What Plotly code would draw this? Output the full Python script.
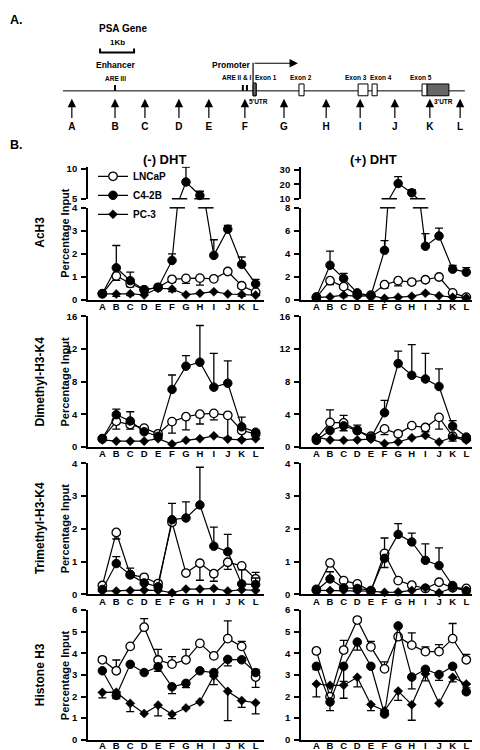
import plotly.graph_objects as go

# ---------------- data ----------------
regions = ["A", "B", "C", "D", "E", "F", "G", "H", "I", "J", "K", "L"]
series_names = ["LNCaP", "C4-2B", "PC-3"]

# AcH3, (-) DHT   (err: + = upper bar, - = lower bar)
ach3_minus_lncap = [0.26, 1.04, 0.71, 0.43, 0.54, 0.89, 0.93, 0.94, 0.91, 1.23, 0.61, 0.33]
ach3_minus_lncap_err = [0, -0.2, -0.15, 0, 0, -0.12, -0.22, -0.3, 0, 0, -0.1, -0.1]
ach3_minus_c42b = [0.27, 1.39, 0.83, 0.44, 0.53, 1.71, 7.8, 5.55, 1.93, 3.07, 1.54, 0.69]
ach3_minus_c42b_err = [0, 0.97, 0.37, 0, 0, 0.29, 2.5, 0.7, 0.68, 0.16, 0.32, 0.2]
ach3_minus_pc3 = [0.26, 0.25, 0.26, 0.21, 0.5, 0.47, 0.22, 0.28, 0.35, 0.25, 0.23, 0.2]
ach3_minus_pc3_err = [0, -0.1, -0.08, 0, 0, -0.12, 0, 0, 0, 0, -0.08, 0]

# AcH3, (+) DHT
ach3_plus_lncap = [0.2, 1.66, 1.14, 0.43, 0.4, 1.31, 1.66, 1.54, 1.74, 1.98, 0.6, 0.23]
ach3_plus_lncap_err = [0, -0.35, 0, 0, 0, -0.3, -0.45, -0.2, 0, 0, 0, 0]
ach3_plus_c42b = [0.25, 3.0, 1.86, 0.6, 0.35, 4.3, 20.5, 14.1, 4.66, 5.55, 2.66, 2.4]
ach3_plus_c42b_err = [0, 1.23, 0.43, 0, 0, 0.84, 4.8, 2.1, 1.1, 0.68, 0.34, 0.4]
ach3_plus_pc3 = [0.2, 0.25, 0.4, 0.3, 0.35, 0.12, 0.22, 0.3, 0.57, 0.35, 0.22, 0.18]
ach3_plus_pc3_err = [0, 0, -0.15, 0, 0, 0, 0, 0, 0, 0, 0, 0]

# Dimethyl-H3-K4, (-) DHT
dime_minus_lncap = [1.0, 3.13, 2.73, 2.29, 1.6, 3.09, 3.69, 4.0, 4.1, 3.86, 2.0, 1.6]
dime_minus_lncap_err = [0, -0.95, -0.55, 0, 0, -1.4, -1.6, -1.2, -0.8, -2.9, -1.0, 0]
dime_minus_c42b = [1.0, 3.94, 3.17, 1.85, 1.29, 7.03, 9.88, 10.36, 7.31, 7.79, 2.45, 1.8]
dime_minus_c42b_err = [0, 0.68, 1.13, 0, 0, 1.77, 1.28, 4.5, 4.14, 2.73, 1.2, 0]
dime_minus_pc3 = [0.85, 0.7, 0.7, 0.7, 1.0, 0.35, 0.8, 1.0, 1.35, 0.95, 0.85, 1.0]
dime_minus_pc3_err = [0, 0, 0, 0, 0, 0, 0, 0, 0, 0.2, 0, 0.3]

# Dimethyl-H3-K4, (+) DHT
dime_plus_lncap = [1.0, 3.0, 2.93, 2.0, 1.3, 2.2, 1.6, 2.6, 2.37, 3.61, 1.3, 1.0]
dime_plus_lncap_err = [0, 1.54, 0.93, 0, 0, -0.7, 0, 0, 0, -1.44, -0.6, 0]
dime_plus_c42b = [0.8, 2.0, 2.57, 2.0, 1.1, 4.18, 10.2, 8.76, 8.31, 7.39, 2.53, 1.2]
dime_plus_c42b_err = [0, 0, -0.6, 0.65, 0, 1.52, 1.53, 3.77, 3.14, 2.17, 0.68, 0]
dime_plus_pc3 = [1.2, 0.85, 0.8, 0.85, 0.95, 0.4, 0.6, 1.1, 1.4, 0.6, 1.2, 0.8]
dime_plus_pc3_err = [0, 0, 0, 0, 0, 0, 0, 0, 0.45, 0, 0, 0]

# Trimethyl-H3-K4, (-) DHT
trime_minus_lncap = [0.27, 1.89, 0.6, 0.52, 0.33, 2.2, 0.65, 0.95, 0.63, 0.98, 0.87, 0.47]
trime_minus_lncap_err = [0, -0.2, 0, 0, 0, 0, 0, -0.52, -0.23, -0.22, 0, 0.2]
trime_minus_c42b = [0.15, 0.94, 0.6, 0.35, 0.23, 2.28, 2.33, 2.73, 1.47, 1.3, 0.32, 0.3]
trime_minus_c42b_err = [0, 0.21, 0.2, 0, 0, 0.5, 0.49, 1.15, 0.58, 0.53, 0.43, 0.2]
trime_minus_pc3 = [0.1, 0.1, 0.12, 0.13, 0.12, 0.05, 0.16, 0.16, 0.18, 0.1, 0.14, 0.12]
trime_minus_pc3_err = [0, 0, 0, 0, 0, 0, 0, 0, 0, 0, 0, 0]

# Trimethyl-H3-K4, (+) DHT
trime_plus_lncap = [0.15, 0.96, 0.42, 0.32, 0.1, 1.25, 0.42, 0.28, 0.18, 0.37, 0.2, 0.18]
trime_plus_lncap_err = [0, 0, 0, 0, 0, 0.47, 0, 0, 0, 0, 0, 0]
trime_plus_c42b = [0.12, 0.47, 0.2, 0.18, 0.12, 1.1, 1.83, 1.6, 1.04, 0.88, 0.27, 0.1]
trime_plus_c42b_err = [0, 0.22, 0, 0, 0, -0.28, 0.33, 0.27, 0.5, 0.54, 0, 0]
trime_plus_pc3 = [0.12, 0.12, 0.12, 0.1, 0.1, 0.06, 0.07, 0.12, 0.2, 0.05, 0.2, 0.12]
trime_plus_pc3_err = [0, 0, 0, 0, 0, 0, 0, 0, 0, 0, 0, 0]

# Histone H3, (-) DHT
h3_minus_lncap = [3.7, 3.19, 4.32, 5.21, 3.69, 3.5, 3.7, 4.46, 3.88, 4.68, 4.32, 2.9]
h3_minus_lncap_err = [0.12, 0.5, 0, 0.4, 0.49, 0.35, 0.48, 0, 0.12, 0.82, 0.23, -0.48]
h3_minus_c42b = [3.19, 2.05, 3.49, 3.11, 3.38, 2.45, 2.61, 3.19, 3.11, 3.72, 3.7, 3.11]
h3_minus_c42b_err = [0, -0.15, 0, 0, -0.22, -0.32, -0.2, 0, 0, -0.3, 0.1, 0.15]
h3_minus_pc3 = [2.19, 2.2, 1.68, 1.21, 1.6, 1.18, 1.47, 1.75, 2.95, 2.24, 1.81, 1.71]
h3_minus_pc3_err = [-0.25, 0, -0.38, 0, -0.5, -0.2, 0, 0, -0.4, -1.36, -0.31, -0.51]

# Histone H3, (+) DHT
h3_plus_lncap = [4.11, 1.99, 4.15, 5.54, 4.3, 3.28, 4.77, 4.38, 4.08, 4.08, 4.68, 3.7]
h3_plus_lncap_err = [0.12, 0, 0.45, 0.1, 0.25, 0.32, 0, 0.57, 0.22, 0.32, 0.7, 0.25]
h3_plus_c42b = [3.4, 1.75, 3.4, 4.52, 3.4, 1.19, 5.27, 2.9, 3.26, 3.02, 3.4, 2.22]
h3_plus_c42b_err = [-0.15, -0.4, -0.7, -0.37, 0, 0, 0, -0.55, 0, -0.27, 0, -0.1]
h3_plus_pc3 = [2.58, 2.52, 2.52, 2.89, 1.63, 1.34, 2.25, 1.62, 3.05, 1.69, 2.89, 2.58]
h3_plus_pc3_err = [-0.6, 0, -0.6, -0.44, -0.28, -0.1, -0.43, -0.72, -0.33, 0, -0.21, -0.18]

# Y tick values
ach3_minus_ticks_low = [0, 1, 2, 3, 4]
ach3_minus_ticks_high = [5, 10]
ach3_plus_ticks_low = [0, 2, 4, 6, 8]
ach3_plus_ticks_high = [10, 20, 30]
dime_ticks = [0, 4, 8, 12, 16]
trime_ticks = [0, 1, 2, 3, 4]
h3_ticks = [0, 1, 2, 3, 4, 5, 6]

# PSA gene map (kb from left end of drawn line)
gene_length_kb = 11.82
region_pos_kb = [0.26, 1.53, 2.41, 3.41, 4.29, 5.35, 6.5, 7.74, 8.74, 9.76, 10.79, 11.68]
are_pos_kb = [1.53, 5.29, 5.41]
exon_names = ["Exon 1", "Exon 2", "Exon 3", "Exon 4", "Exon 5"]
exon_start_kb = [5.59, 6.94, 8.68, 9.09, 10.56]
exon_end_kb = [5.68, 7.09, 8.97, 9.24, 10.71]
exon_label_kb = [5.97, 7.0, 8.62, 9.35, 10.53]
utr5_kb = [5.59, 5.68]
utr3_kb = [10.71, 11.35]
promoter_arrow_end_kb = 6.91
scale_bar_kb = [1.09, 2.09]

# ---------------- layout helpers ----------------
W, H = 480, 750
FONT = "Liberation Sans, Arial, Helvetica, sans-serif"


def xd(a, b):
    return [a / W, b / W]


def yd(top, bottom):
    return [1 - bottom / H, 1 - top / H]


fig = go.Figure()
xs = list(range(len(regions)))

styles = {
    "LNCaP": dict(symbol="circle", size=8.5, color="white", line=dict(color="black", width=1.3)),
    "C4-2B": dict(symbol="circle", size=8.5, color="black", line=dict(color="black", width=1)),
    "PC-3": dict(symbol="diamond", size=7, color="black", line=dict(color="black", width=0.5)),
}


def add_series(name, vals, errs, ax, lo=None, hi=None):
    xa, ya = ax
    # connecting line, clipped to the axis
    fig.add_trace(go.Scatter(x=xs, y=vals, mode="lines", xaxis=xa, yaxis=ya,
                             line=dict(color="black", width=1.2), showlegend=False,
                             hoverinfo="skip"))
    mvals = [v if (lo is None or v >= lo) and (hi is None or v <= hi) else None for v in vals]
    up = [max(e, 0) for e in errs]
    dn = [max(-e, 0) for e in errs]
    fig.add_trace(go.Scatter(x=xs, y=mvals, mode="markers", xaxis=xa, yaxis=ya,
                             marker=styles[name], cliponaxis=False, showlegend=False,
                             error_y=dict(type="data", array=up, arrayminus=dn, symmetric=False,
                                          color="black", thickness=1.3, width=4)))


def add_break_caps(vals, ax, level):
    xa, ya = ax
    cx, cy = [], []
    for i in range(len(vals) - 1):
        a, b = vals[i], vals[i + 1]
        if (a - level) * (b - level) < 0:
            cx.append(i + (level - a) / (b - a))
            cy.append(level)
    fig.add_trace(go.Scatter(x=cx, y=cy, mode="markers", xaxis=xa, yaxis=ya, cliponaxis=False,
                             marker=dict(symbol="line-ew", size=11, line=dict(color="black", width=1.5)),
                             showlegend=False, hoverinfo="skip"))


panels = [
    (("x", "y"), ("x2", "y2"), ach3_minus_lncap, ach3_minus_lncap_err, ach3_minus_c42b, ach3_minus_c42b_err,
     ach3_minus_pc3, ach3_minus_pc3_err, 4, 5),
    (("x3", "y3"), ("x4", "y4"), ach3_plus_lncap, ach3_plus_lncap_err, ach3_plus_c42b, ach3_plus_c42b_err,
     ach3_plus_pc3, ach3_plus_pc3_err, 8, 10),
    (("x5", "y5"), None, dime_minus_lncap, dime_minus_lncap_err, dime_minus_c42b, dime_minus_c42b_err,
     dime_minus_pc3, dime_minus_pc3_err, None, None),
    (("x6", "y6"), None, dime_plus_lncap, dime_plus_lncap_err, dime_plus_c42b, dime_plus_c42b_err,
     dime_plus_pc3, dime_plus_pc3_err, None, None),
    (("x7", "y7"), None, trime_minus_lncap, trime_minus_lncap_err, trime_minus_c42b, trime_minus_c42b_err,
     trime_minus_pc3, trime_minus_pc3_err, None, None),
    (("x8", "y8"), None, trime_plus_lncap, trime_plus_lncap_err, trime_plus_c42b, trime_plus_c42b_err,
     trime_plus_pc3, trime_plus_pc3_err, None, None),
    (("x9", "y9"), None, h3_minus_lncap, h3_minus_lncap_err, h3_minus_c42b, h3_minus_c42b_err,
     h3_minus_pc3, h3_minus_pc3_err, None, None),
    (("x10", "y10"), None, h3_plus_lncap, h3_plus_lncap_err, h3_plus_c42b, h3_plus_c42b_err,
     h3_plus_pc3, h3_plus_pc3_err, None, None),
]

for low_ax, high_ax, l, le, c, ce, p, pe, brk_lo, brk_hi in panels:
    for name, v, e in (("LNCaP", l, le), ("C4-2B", c, ce), ("PC-3", p, pe)):
        if high_ax is None:
            add_series(name, v, e, low_ax)
        else:
            add_series(name, v, e, low_ax, hi=brk_lo)
            add_series(name, v, e, high_ax, lo=brk_hi)
    if high_ax is not None:
        add_break_caps(c, low_ax, brk_lo)
        add_break_caps(c, high_ax, brk_hi)

# legend entries
for name in series_names:
    fig.add_trace(go.Scatter(x=[None], y=[None], mode="lines+markers", name=name, xaxis="x", yaxis="y",
                             line=dict(color="black", width=1.2), marker=styles[name]))

# ---------------- axes ----------------
left_x = xd(80, 256)
right_x = xd(293, 476)
left_xrange = [-1.03, 11.6]
right_xrange = [-1.13, 12.3]

tickfont = dict(family=FONT, size=9.5, color="black", weight="bold")
xtickfont = dict(family=FONT, size=9.5, color="black", weight="bold")


def xaxis_cfg(dom, rng, visible=True, standoff=-3):
    return dict(domain=dom, range=rng, showgrid=False, zeroline=False, showline=visible,
                linecolor="black", linewidth=1.8, ticks="", ticklen=0, tickvals=xs, ticktext=regions,
                showticklabels=visible, tickfont=xtickfont, ticklabelstandoff=standoff, fixedrange=True)


def yaxis_cfg(dom, rng, ticks, anchor):
    return dict(domain=dom, range=rng, showgrid=False, zeroline=False, showline=True,
                linecolor="black", linewidth=1.8, ticks="outside", ticklen=5, tickwidth=1.8,
                tickcolor="black", tickvals=ticks, tickfont=tickfont, anchor=anchor,
                ticklabelstandoff=2, fixedrange=True)


row1_hi = yd(155, 187.5)
row1_lo = yd(196.7, 290)
row2 = yd(306.7, 439.3)
row3 = yd(456, 589)
row4 = yd(605, 736.5)

fig.update_layout(
    xaxis=xaxis_cfg(left_x, left_xrange) | dict(anchor="y"),
    yaxis=yaxis_cfg(row1_lo, [0, 4], ach3_minus_ticks_low, "x"),
    xaxis2=xaxis_cfg(left_x, left_xrange, False) | dict(anchor="y2"),
    yaxis2=yaxis_cfg(row1_hi, [5, 10.35], ach3_minus_ticks_high, "x2"),
    xaxis3=xaxis_cfg(right_x, right_xrange) | dict(anchor="y3"),
    yaxis3=yaxis_cfg(row1_lo, [0, 8], ach3_plus_ticks_low, "x3"),
    xaxis4=xaxis_cfg(right_x, right_xrange, False) | dict(anchor="y4"),
    yaxis4=yaxis_cfg(row1_hi, [10, 32.1], ach3_plus_ticks_high, "x4"),
    xaxis5=xaxis_cfg(left_x, left_xrange) | dict(anchor="y5"),
    yaxis5=yaxis_cfg(row2, [0, 16], dime_ticks, "x5"),
    xaxis6=xaxis_cfg(right_x, right_xrange) | dict(anchor="y6"),
    yaxis6=yaxis_cfg(row2, [0, 16], dime_ticks, "x6"),
    xaxis7=xaxis_cfg(left_x, left_xrange) | dict(anchor="y7"),
    yaxis7=yaxis_cfg(row3, [0, 4], trime_ticks, "x7"),
    xaxis8=xaxis_cfg(right_x, right_xrange) | dict(anchor="y8"),
    yaxis8=yaxis_cfg(row3, [0, 4], trime_ticks, "x8"),
    xaxis9=xaxis_cfg(left_x, left_xrange, standoff=-4) | dict(anchor="y9"),
    yaxis9=yaxis_cfg(row4, [0, 6], h3_ticks, "x9"),
    xaxis10=xaxis_cfg(right_x, right_xrange, standoff=-4) | dict(anchor="y10"),
    yaxis10=yaxis_cfg(row4, [0, 6], h3_ticks, "x10"),
    # gene map axes
    xaxis11=dict(domain=[0, 1], range=[-55 / 34, 425 / 34], visible=False, anchor="y11", fixedrange=True),
    yaxis11=dict(domain=yd(0, 125), range=[125, 0], visible=False, anchor="x11", fixedrange=True),
)

# ---------------- gene map ----------------
fig.add_trace(go.Scatter(x=region_pos_kb, y=[115] * len(region_pos_kb), mode="text", text=regions,
                         textfont=dict(family=FONT, size=10, color="black", weight="bold"),
                         xaxis="x11", yaxis="y11", showlegend=False, hoverinfo="skip", cliponaxis=False))

shapes = []
annotations = []
G = dict(xref="x11", yref="y11")
# gene line
shapes.append(dict(type="line", x0=0, x1=gene_length_kb, y0=78, y1=78, line=dict(color="black", width=1), **G))
# AREs
for p in are_pos_kb:
    shapes.append(dict(type="line", x0=p, x1=p, y0=72, y1=78, line=dict(color="black", width=2), **G))
# exons
for s, e in zip(exon_start_kb, exon_end_kb):
    shapes.append(dict(type="rect", x0=s, x1=e, y0=71, y1=83, line=dict(color="black", width=1),
                       fillcolor="white", **G))
shapes.append(dict(type="rect", x0=utr5_kb[0], x1=utr5_kb[1], y0=70, y1=83, line=dict(color="black", width=1),
                   fillcolor="#666666", **G))
shapes.append(dict(type="rect", x0=utr3_kb[0], x1=utr3_kb[1], y0=71, y1=83, line=dict(color="black", width=1),
                   fillcolor="#666666", **G))
# promoter arrow vertical part
shapes.append(dict(type="line", x0=exon_start_kb[0], x1=exon_start_kb[0], y0=70, y1=49.5,
                   line=dict(color="black", width=1.2), **G))
annotations.append(dict(x=promoter_arrow_end_kb, y=50, ax=exon_start_kb[0], ay=50, axref="x11", ayref="y11",
                        text="", showarrow=True, arrowhead=2, arrowsize=1.4, arrowwidth=1.2,
                        arrowcolor="black", standoff=0, **G))
# scale bar
shapes.append(dict(type="path", path=f"M {scale_bar_kb[0]},35 L {scale_bar_kb[0]},39 L {scale_bar_kb[1]},39 L {scale_bar_kb[1]},35",
                   line=dict(color="black", width=2), **G))
# region arrows
for p in region_pos_kb:
    annotations.append(dict(x=p, y=86, ax=p, ay=107, axref="x11", ayref="y11", text="", showarrow=True,
                            arrowhead=2, arrowsize=1.4, arrowwidth=1.2, arrowcolor="black", standoff=0, **G))


def txt(x, y, s, size, **kw):
    d = dict(x=x, y=y, text=s, showarrow=False, font=dict(family=FONT, size=size, color="black", weight="bold"),
             xanchor="center", yanchor="middle", **G)
    d.update(kw)
    annotations.append(d)


txt(1.76, 15, "PSA Gene", 10)
txt(sum(scale_bar_kb) / 2, 29, "1Kb", 8)
txt(are_pos_kb[0], 52, "Enhancer", 8.5)
txt(are_pos_kb[0], 65, "ARE III", 6.5)
txt(4.94, 52, "Promoter", 8.5)
txt(5.09, 64, "ARE II & I", 6.5)
for name, p in zip(exon_names, exon_label_kb):
    txt(p, 64, name, 6.5)
txt(5.76, 89, "5'UTR", 6.5)
txt(11.18, 89, "3'UTR", 6.5)

# panel letters and titles
P = dict(xref="paper", yref="paper", showarrow=False)
annotations.append(dict(x=0, y=1 - 6 / H, text="A.", xanchor="left", yanchor="middle",
                        font=dict(family=FONT, size=12.5, color="black", weight="bold"), **P))
annotations.append(dict(x=0, y=1 - 133 / H, text="B.", xanchor="left", yanchor="middle",
                        font=dict(family=FONT, size=12.5, color="black", weight="bold"), **P))
annotations.append(dict(x=156 / W, y=1 - 148 / H, text="(-) DHT", xanchor="center", yanchor="middle",
                        font=dict(family=FONT, size=13, color="black", weight="bold"), **P))
annotations.append(dict(x=365 / W, y=1 - 148 / H, text="(+) DHT", xanchor="center", yanchor="middle",
                        font=dict(family=FONT, size=13, color="black", weight="bold"), **P))

row_labels = ["AcH3", "Dimethyl-H3-K4", "Trimethyl-H3-K4", "Histone H3"]
row_centers = [222, 373, 522, 671]
for lab, cy in zip(row_labels, row_centers):
    annotations.append(dict(x=32 / W, y=1 - cy / H, text=lab, textangle=-90, xanchor="center", yanchor="middle",
                            font=dict(family=FONT, size=12, color="black", weight="bold"), **P))
    annotations.append(dict(x=57 / W, y=1 - cy / H, text="Percentage Input", textangle=-90, xanchor="center",
                            yanchor="middle", font=dict(family=FONT, size=11, color="black", weight="bold"), **P))

fig.update_layout(
    shapes=shapes,
    annotations=annotations,
    width=W, height=H,
    margin=dict(l=0, r=0, t=0, b=0),
    paper_bgcolor="white", plot_bgcolor="white",
    showlegend=True,
    legend=dict(x=85 / W, y=1 - 150 / H, xanchor="left", yanchor="top", bgcolor="rgba(0,0,0,0)",
                font=dict(family=FONT, size=10, color="black", weight="bold"), itemwidth=30,
                tracegroupgap=0, borderwidth=0),
)

fig.write_html("out.html")
